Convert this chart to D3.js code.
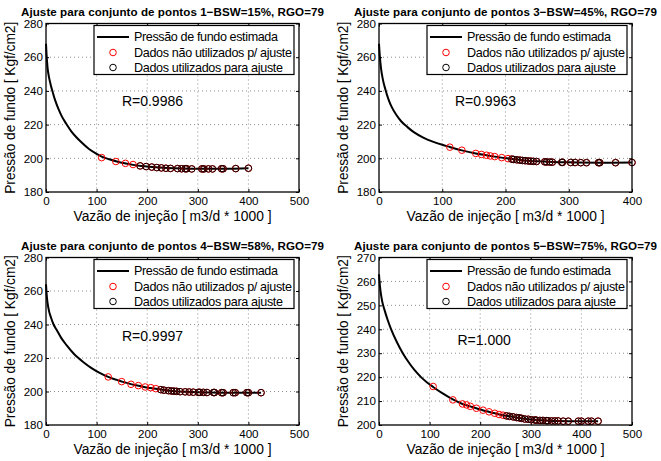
<!DOCTYPE html>
<html><head><meta charset="utf-8">
<script src="https://cdn.jsdelivr.net/npm/d3@7"></script>
<style>
body{margin:0;background:#fff}
svg{display:block}
text{font-family:"Liberation Sans",Arial,Helvetica,sans-serif;fill:#000}
</style>
</head><body>
<svg id="c" width="661" height="461"></svg>
<script>
// ---------- data ----------
const titles = [
  "Ajuste para conjunto de pontos 1\u2212BSW=15%, RGO=79",
  "Ajuste para conjunto de pontos 3\u2212BSW=45%, RGO=79",
  "Ajuste para conjunto de pontos 4\u2212BSW=58%, RGO=79",
  "Ajuste para conjunto de pontos 5\u2212BSW=75%, RGO=79"
];
const xLabel = "Vazão de injeção [ m3/d * 1000 ]";
const yLabel = "Pressão de fundo [ Kgf/cm2]";
const legendLabels = ["Pressão de fundo estimada", "Dados não utilizados p/ ajuste", "Dados utilizados para ajuste"];
const rLabels = ["R=0.9986", "R=0.9963", "R=0.9997", "R=1.000"];
const rX = [150, 120, 150, 155];
const rY = [234, 234, 233, 235.5];

const xTicks500 = [0, 100, 200, 300, 400, 500];
const xTicks400 = [0, 100, 200, 300, 400];
const yTicks180 = [180, 200, 220, 240, 260, 280];
const yTicks200 = [200, 210, 220, 230, 240, 250, 260, 270];

// Panel 1
const p1CurveX = [0, 1, 3, 6, 9, 14, 18, 25, 31, 40, 50, 60, 70, 85, 100, 110, 125, 140, 158, 172, 190, 210, 240, 270, 300, 350, 400];
const p1CurveY = [268, 262, 254, 248, 244, 238.5, 234.5, 229, 225, 220.5, 216, 212.5, 209.5, 205.5, 202.6, 201.0, 199.4, 198.1, 196.9, 196.1, 195.4, 194.8, 194.2, 193.9, 193.8, 193.8, 194.1];
const p1UnusedX = [110, 138, 157, 172];
const p1UnusedY = [200.4, 198.1, 197.0, 196.3];
const p1UsedX = [186, 198, 209, 219, 228, 237, 246, 260, 268, 275, 278, 288, 308, 312, 321, 329, 347, 350, 375, 400];
const p1UsedY = [195.5, 195.1, 194.8, 194.5, 194.3, 194.1, 194.0, 193.9, 193.8, 193.8, 193.8, 193.7, 193.7, 193.7, 193.7, 193.7, 193.8, 193.8, 193.9, 194.1];

// Panel 2
const p2CurveX = [0, 1, 3, 6, 10, 15, 20, 27, 35, 45, 55, 70, 85, 100, 112, 131, 153, 170, 183, 204, 225, 250, 275, 300, 350, 400];
const p2CurveY = [268, 262, 254, 247, 241, 235, 230.5, 226, 222, 218.5, 215.5, 212.3, 209.9, 208.0, 206.7, 204.7, 202.9, 201.8, 201.0, 199.9, 198.9, 198.2, 197.8, 197.6, 197.4, 197.5];
const p2UnusedX = [112, 131, 153, 162, 170, 176, 183, 194, 204];
const p2UnusedY = [206.6, 204.8, 202.9, 202.3, 201.8, 201.4, 201.0, 200.4, 199.8];
const p2UsedX = [210, 213, 218, 223, 227, 231, 236, 240, 244, 249, 262, 265, 270, 274, 289, 290, 303, 310, 319, 328, 347, 349, 374, 400];
const p2UsedY = [199.5, 199.3, 199.1, 198.9, 198.7, 198.6, 198.4, 198.3, 198.2, 198.1, 197.9, 197.8, 197.8, 197.7, 197.6, 197.6, 197.5, 197.5, 197.4, 197.4, 197.4, 197.4, 197.4, 197.5];

// Panel 3
const p3CurveX = [0, 1, 3, 6, 10, 15, 21, 30, 41, 55, 74, 90, 107, 123, 150, 168, 183, 196, 207, 217, 230, 250, 275, 300, 350, 400, 425];
const p3CurveY = [264, 259, 253, 248, 244, 240, 236.8, 232, 227.5, 222.5, 217.5, 214, 211, 208.7, 205.9, 204.4, 203.4, 202.6, 202.1, 201.6, 201.0, 200.3, 199.8, 199.5, 199.3, 199.3, 199.3];
const p3UnusedX = [123, 149.5, 168, 182.5, 196, 207, 217];
const p3UnusedY = [208.7, 205.9, 204.3, 203.5, 202.7, 202.3, 201.7];
const p3UsedX = [227, 233, 242, 248, 253, 258, 265, 275, 283, 291, 301, 304, 311, 318, 331, 333, 347, 350, 370, 374, 397, 400, 425];
const p3UsedY = [201.1, 200.8, 200.5, 200.3, 200.2, 200.1, 199.9, 199.8, 199.7, 199.6, 199.5, 199.5, 199.5, 199.4, 199.4, 199.4, 199.3, 199.3, 199.3, 199.3, 199.3, 199.3, 199.3];

// Panel 4
const p4CurveX = [0, 1, 3, 6, 11, 17, 24, 35, 47, 60, 70, 84, 95, 107, 125, 146, 165, 180, 205, 229, 245, 265, 290, 320, 350, 400, 433];
const p4CurveY = [263, 260, 256, 252, 248, 244, 240, 234.8, 230, 225.8, 223, 219.8, 217.8, 215.9, 213.3, 210.7, 208.8, 207.8, 206.2, 204.9, 204.1, 203.4, 202.5, 202.0, 201.7, 201.6, 201.6];
const p4UnusedX = [107, 146, 165, 173, 180.5, 192.5, 205.6, 217.5, 228.7, 237.3, 245];
const p4UnusedY = [216.1, 210.5, 208.8, 208.4, 207.8, 207.0, 206.2, 205.5, 204.9, 204.4, 204.1];
const p4UsedX = [252, 258, 265, 272, 277, 281.5, 288, 295, 301, 308, 311, 318, 324, 331, 334, 341, 347.5, 354, 364, 374, 394, 400, 413.5, 420, 433];
const p4UsedY = [203.8, 203.6, 203.4, 203.1, 203.0, 202.8, 202.5, 202.4, 202.2, 202.1, 202.0, 201.9, 201.9, 201.8, 201.8, 201.7, 201.7, 201.7, 201.6, 201.6, 201.6, 201.6, 201.6, 201.6, 201.6];

// ---------- layout ----------
const panels = [
  {title: titles[0], cx: p1CurveX, cy: p1CurveY, ux: p1UnusedX, uy: p1UnusedY, kx: p1UsedX, ky: p1UsedY,
   xDom: [0, 500], yDom: [180, 280], xTicks: xTicks500, yTicks: yTicks180, box: [46, 23.5, 299, 192], r: 0},
  {title: titles[1], cx: p2CurveX, cy: p2CurveY, ux: p2UnusedX, uy: p2UnusedY, kx: p2UsedX, ky: p2UsedY,
   xDom: [0, 400], yDom: [180, 280], xTicks: xTicks400, yTicks: yTicks180, box: [379, 23.5, 632, 192], r: 1},
  {title: titles[2], cx: p3CurveX, cy: p3CurveY, ux: p3UnusedX, uy: p3UnusedY, kx: p3UsedX, ky: p3UsedY,
   xDom: [0, 500], yDom: [180, 280], xTicks: xTicks500, yTicks: yTicks180, box: [46, 257.5, 299, 425], r: 2},
  {title: titles[3], cx: p4CurveX, cy: p4CurveY, ux: p4UnusedX, uy: p4UnusedY, kx: p4UsedX, ky: p4UsedY,
   xDom: [0, 500], yDom: [200, 270], xTicks: xTicks500, yTicks: yTicks200, box: [379, 257.5, 632, 425], r: 3}
];
const legendWidths = [144, 158, 149];

const svg = d3.select("#c");
const markerR = 3.3;

panels.forEach(p => {
  const [x0, y0, x1, y1] = p.box;
  const x = d3.scaleLinear().domain(p.xDom).range([x0, x1]);
  const y = d3.scaleLinear().domain(p.yDom).range([y1, y0]);
  const g = svg.append("g");

  // grid
  const grid = g.append("g").attr("stroke", "#808080").attr("stroke-width", 0.9).attr("stroke-dasharray", "1,3");
  p.xTicks.slice(1, -1).forEach(t => grid.append("line").attr("x1", x(t)).attr("x2", x(t)).attr("y1", y0).attr("y2", y1));
  p.yTicks.slice(1, -1).forEach(t => grid.append("line").attr("x1", x0).attr("x2", x1).attr("y1", y(t)).attr("y2", y(t)));

  // axes via d3.axis (inward ticks)
  const fmt = d3.format("d");
  const ax = (sel) => sel.selectAll("text").style("font-size", "11.6px").attr("fill", "#000");
  g.append("g").attr("transform", `translate(0,${y1})`)
    .call(d3.axisBottom(x).tickValues(p.xTicks).tickFormat(fmt).tickSizeInner(-3).tickSizeOuter(0).tickPadding(6))
    .call(s => { s.select(".domain").remove(); s.selectAll("line").attr("stroke", "#000"); ax(s); s.selectAll("text").attr("dy", "0.71em").attr("y", 5); });
  g.append("g").attr("transform", `translate(0,${y0})`)
    .call(d3.axisTop(x).tickValues(p.xTicks).tickFormat("").tickSizeInner(-3).tickSizeOuter(0))
    .call(s => { s.select(".domain").remove(); s.selectAll("line").attr("stroke", "#000"); });
  g.append("g").attr("transform", `translate(${x0},0)`)
    .call(d3.axisLeft(y).tickValues(p.yTicks).tickFormat(fmt).tickSizeInner(-3).tickSizeOuter(0))
    .call(s => { s.select(".domain").remove(); s.selectAll("line").attr("stroke", "#000"); ax(s); s.selectAll("text").attr("x", -3); });
  g.append("g").attr("transform", `translate(${x1},0)`)
    .call(d3.axisRight(y).tickValues(p.yTicks).tickFormat("").tickSizeInner(-3).tickSizeOuter(0))
    .call(s => { s.select(".domain").remove(); s.selectAll("line").attr("stroke", "#000"); });

  // curve
  const line = d3.line().x((d, i) => x(p.cx[i])).y((d, i) => y(p.cy[i])).curve(d3.curveMonotoneX);
  g.append("path").datum(p.cx).attr("d", line).attr("fill", "none").attr("stroke", "#000").attr("stroke-width", 2);

  // all data red, used data black on top
  const allX = p.ux.concat(p.kx), allY = p.uy.concat(p.ky);
  g.append("g").selectAll("circle").data(allX).join("circle")
    .attr("cx", d => x(d)).attr("cy", (d, i) => y(allY[i])).attr("r", markerR)
    .attr("fill", "none").attr("stroke", "#ff0000").attr("stroke-width", 1);
  g.append("g").selectAll("circle").data(p.kx).join("circle")
    .attr("cx", d => x(d)).attr("cy", (d, i) => y(p.ky[i])).attr("r", markerR)
    .attr("fill", "none").attr("stroke", "#1a0000").attr("stroke-width", 1);

  // box
  g.append("rect").attr("x", x0).attr("y", y0).attr("width", x1 - x0).attr("height", y1 - y0)
    .attr("fill", "none").attr("stroke", "#000").attr("stroke-width", 1.3);

  // R text
  g.append("text").attr("x", x(rX[p.r])).attr("y", y(rY[p.r])).attr("dy", "0.35em")
    .style("font-size", "14px").text(rLabels[p.r]);

  // legend
  const lw = 200, lh = 49;
  const lx = x1 - 5 - lw, ly = y0 + 2;
  const lg = g.append("g");
  lg.append("rect").attr("x", lx).attr("y", ly).attr("width", lw).attr("height", lh)
    .attr("fill", "#fff").attr("stroke", "#000").attr("stroke-width", 1.2);
  const rows = [ly + 11.5, ly + 27, ly + 42];
  lg.append("line").attr("x1", lx + 3).attr("x2", lx + 35).attr("y1", rows[0]).attr("y2", rows[0])
    .attr("stroke", "#000").attr("stroke-width", 2);
  lg.append("circle").attr("cx", lx + 19).attr("cy", rows[1]).attr("r", markerR).attr("fill", "none").attr("stroke", "#ff0000");
  lg.append("circle").attr("cx", lx + 19).attr("cy", rows[2]).attr("r", markerR).attr("fill", "none").attr("stroke", "#000");
  legendLabels.forEach((t, i) => lg.append("text").attr("x", lx + 40).attr("y", rows[i]).attr("dy", "0.35em")
    .style("font-size", "12.6px").attr("textLength", legendWidths[i]).attr("lengthAdjust", "spacing").text(t));

  // title
  g.append("text").attr("x", (x0 + x1) / 2).attr("y", y0 - 7.5).attr("text-anchor", "middle")
    .style("font-size", "11.6px").style("font-weight", "bold")
    .attr("textLength", 303).attr("lengthAdjust", "spacing").text(p.title);
  // x label
  g.append("text").attr("x", (x0 + x1) / 2).attr("y", y1 + 29).attr("text-anchor", "middle")
    .style("font-size", "13.8px").attr("textLength", 198).attr("lengthAdjust", "spacing").text(xLabel);
  // y label
  g.append("text").attr("transform", `translate(${x0 - 31},${(y0 + y1) / 2}) rotate(-90)`).attr("text-anchor", "middle")
    .style("font-size", "13.8px").attr("textLength", 172).attr("lengthAdjust", "spacing").text(yLabel);
});
</script>
</body></html>
